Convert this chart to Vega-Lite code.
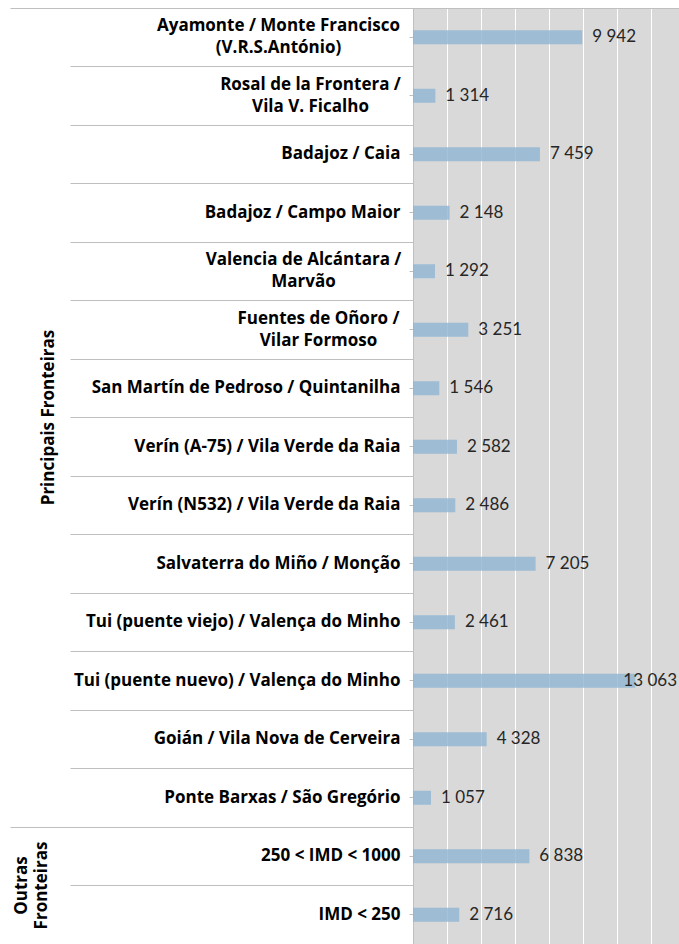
{
  "$schema": "https://vega.github.io/schema/vega-lite/v6.json",
  "autosize": "none",
  "padding": {"left": 413, "top": 8, "right": 0, "bottom": 0},
  "width": 266,
  "height": 936,
  "background": "white",
  "config": {
    "view": {"fill": "#d9d9d9", "stroke": null},
    "font": "Open Sans"
  },
  "data": {
    "values": [
      {"group": "Principais Fronteiras", "name": "Ayamonte / Monte Francisco\n(V.R.S.António)", "v": 9942},
      {"group": "Principais Fronteiras", "name": "Rosal de la Frontera /\nVila V. Ficalho", "v": 1314},
      {"group": "Principais Fronteiras", "name": "Badajoz / Caia", "v": 7459},
      {"group": "Principais Fronteiras", "name": "Badajoz / Campo Maior", "v": 2148},
      {"group": "Principais Fronteiras", "name": "Valencia de Alcántara /\nMarvão", "v": 1292},
      {"group": "Principais Fronteiras", "name": "Fuentes de Oñoro /\nVilar Formoso", "v": 3251},
      {"group": "Principais Fronteiras", "name": "San Martín de Pedroso / Quintanilha", "v": 1546},
      {"group": "Principais Fronteiras", "name": "Verín (A-75) / Vila Verde da Raia", "v": 2582},
      {"group": "Principais Fronteiras", "name": "Verín (N532) / Vila Verde da Raia", "v": 2486},
      {"group": "Principais Fronteiras", "name": "Salvaterra do Miño / Monção", "v": 7205},
      {"group": "Principais Fronteiras", "name": "Tui (puente viejo) / Valença do Minho", "v": 2461},
      {"group": "Principais Fronteiras", "name": "Tui (puente nuevo) / Valença do Minho", "v": 13063},
      {"group": "Principais Fronteiras", "name": "Goián / Vila Nova de Cerveira", "v": 4328},
      {"group": "Principais Fronteiras", "name": "Ponte Barxas / São Gregório", "v": 1057},
      {"group": "Outras Fronteiras", "name": "250 < IMD < 1000", "v": 6838},
      {"group": "Outras Fronteiras", "name": "IMD < 250", "v": 2716}
    ]
  },
  "transform": [
    {"calculate": "replace(format(datum.v, ','), ',', ' ')", "as": "lbl"}
  ],
  "resolve": {"axis": {"y": "independent"}},
  "layer": [
    {
      "mark": {"type": "bar", "height": {"band": 0.24}, "color": "#8eb5d3", "opacity": 0.8},
      "encoding": {
        "x": {
          "field": "v",
          "type": "quantitative",
          "scale": {"domain": [0, 15630], "nice": false, "zero": true},
          "axis": {
            "orient": "top",
            "title": null,
            "labels": false,
            "ticks": false,
            "domain": true,
            "domainColor": "#bfbfbf",
            "domainWidth": 1,
            "grid": true,
            "gridColor": "#ffffff",
            "gridWidth": 1,
            "values": [2000, 4000, 6000, 8000, 10000, 12000, 14000]
          }
        },
        "y": {
          "field": "name",
          "type": "nominal",
          "sort": null,
          "scale": {"paddingInner": 0, "paddingOuter": 0},
          "axis": {
            "orient": "left",
            "title": null,
            "domain": true,
            "domainColor": "#bfbfbf",
            "ticks": true,
            "tickSize": 4,
            "tickColor": "#bfbfbf",
            "grid": false,
            "labelFont": "Open Sans",
            "labelFontWeight": "bold",
            "labelFontSize": 17,
            "labelColor": "#000000",
            "labelLineHeight": 22,
            "labelLimit": 0,
            "labelBaseline": "middle",
            "labelExpr": "split(datum.label, '\\n')",
            "labelAlign": {"condition": {"test": "indexof(datum.value, '\\n') >= 0", "value": "center"}, "value": "right"},
            "labelOffset": {"condition": {"test": "indexof(datum.value, '\\n') >= 0", "value": -11}, "value": 0},
            "labelPadding": {
              "condition": [
                {"test": "indexof(datum.value, 'Ayamonte') == 0", "value": 131},
                {"test": "indexof(datum.value, 'Rosal') == 0", "value": 99},
                {"test": "indexof(datum.value, 'Valencia') == 0", "value": 106},
                {"test": "indexof(datum.value, 'Fuentes') == 0", "value": 91}
              ],
              "value": 9
            }
          }
        }
      }
    },
    {
      "mark": {"type": "rule", "opacity": 0},
      "encoding": {
        "y": {
          "field": "name",
          "type": "nominal",
          "sort": null,
          "scale": {"paddingInner": 0, "paddingOuter": 0},
          "axis": {
            "title": null,
            "orient": "left",
            "bandPosition": 0,
            "labels": false,
            "domain": false,
            "grid": false,
            "ticks": true,
            "tickSize": 343,
            "tickColor": "#bfbfbf",
            "tickWidth": 1
          }
        }
      }
    },
    {
      "mark": {"type": "rule", "opacity": 0},
      "encoding": {
        "y": {
          "field": "name",
          "type": "nominal",
          "sort": null,
          "scale": {"paddingInner": 0, "paddingOuter": 0},
          "axis": {
            "title": null,
            "orient": "left",
            "bandPosition": 0,
            "values": ["Ayamonte / Monte Francisco\n(V.R.S.António)", "250 < IMD < 1000"],
            "labels": false,
            "domain": false,
            "grid": false,
            "ticks": true,
            "tickSize": 403,
            "tickColor": "#bfbfbf",
            "tickWidth": 1
          }
        }
      }
    },
    {
      "mark": {"type": "rule", "opacity": 0},
      "encoding": {
        "y": {
          "field": "name",
          "type": "nominal",
          "sort": null,
          "scale": {"paddingInner": 0, "paddingOuter": 0},
          "axis": {
            "title": null,
            "orient": "left",
            "values": ["San Martín de Pedroso / Quintanilha", "250 < IMD < 1000"],
            "labelExpr": "datum.value == '250 < IMD < 1000' ? ['Outras', 'Fronteiras'] : 'Principais Fronteiras'",
            "labelAngle": 270,
            "labelAlign": "center",
            "labelBaseline": "bottom",
            "labelOffset": 29.25,
            "labelFont": "Open Sans",
            "labelFontWeight": "bold",
            "labelFontSize": 17,
            "labelColor": "#000000",
            "labelLineHeight": 20,
            "labelLimit": 0,
            "labelPadding": {"condition": {"test": "datum.value == '250 < IMD < 1000'", "value": 383}, "value": 356},
            "domain": false,
            "grid": false,
            "ticks": false,
            "tickSize": 0
          }
        }
      }
    },
    {
      "transform": [{"filter": "datum.v < 12000"}],
      "mark": {"type": "text", "align": "left", "baseline": "middle", "dx": 10, "font": "Lato", "fontSize": 17, "color": "#262626"},
      "encoding": {
        "x": {"field": "v", "type": "quantitative"},
        "y": {"field": "name", "type": "nominal", "sort": null, "axis": null},
        "text": {"field": "lbl"}
      }
    },
    {
      "transform": [{"filter": "datum.v >= 12000"}],
      "mark": {"type": "text", "align": "right", "baseline": "middle", "dx": -2, "font": "Lato", "fontSize": 17, "color": "#262626"},
      "encoding": {
        "x": {"datum": 15630, "type": "quantitative"},
        "y": {"field": "name", "type": "nominal", "sort": null, "axis": null},
        "text": {"field": "lbl"}
      }
    }
  ]
}
